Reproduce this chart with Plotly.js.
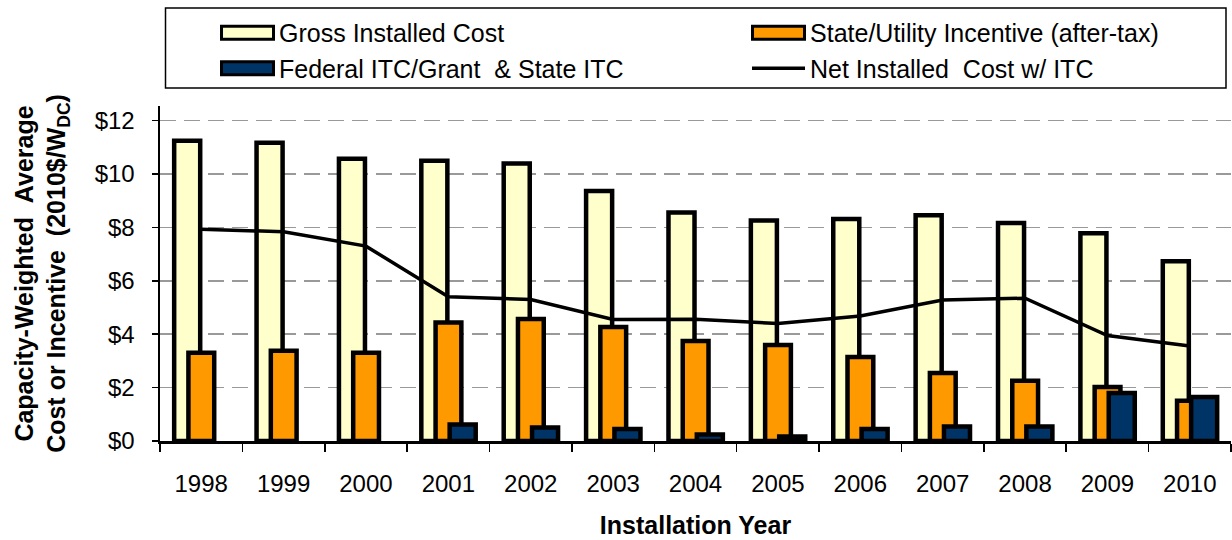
<!DOCTYPE html>
<html><head><meta charset="utf-8">
<script src="https://cdn.plot.ly/plotly-3.0.1.min.js"></script>
<style>html,body{margin:0;padding:0;background:#fff}</style>
</head><body>
<div id="chart" style="width:1232px;height:540px"></div>
<script>
const years = ['1998','1999','2000','2001','2002','2003','2004','2005','2006','2007','2008','2009','2010'];
const grossCost = [11.25, 11.17, 10.57, 10.50, 10.40, 9.37, 8.56, 8.26, 8.32, 8.46, 8.17, 7.78, 6.73];
const stateIncentive = [3.31, 3.38, 3.31, 4.44, 4.57, 4.27, 3.75, 3.60, 3.15, 2.55, 2.26, 2.02, 1.51];
const federalITC = [null, null, null, 0.62, 0.51, 0.45, 0.24, 0.17, 0.45, 0.54, 0.54, 1.80, 1.65];
const netCost = [7.93, 7.84, 7.30, 5.40, 5.30, 4.55, 4.56, 4.40, 4.68, 5.28, 5.35, 3.95, 3.56];

const FONT = 'Liberation Sans, Arial, sans-serif';
const BAR_LINE = 4.5;

const traces = [
  {type: 'bar', name: 'Gross Installed Cost', x: years, y: grossCost,
   offset: -0.328, width: 0.316,
   marker: {color: '#FFFFCC', line: {color: '#000000', width: BAR_LINE}}, hoverinfo: 'skip'},
  {type: 'bar', name: 'State/Utility Incentive (after-tax)', x: years, y: stateIncentive,
   offset: -0.155, width: 0.313,
   marker: {color: '#FF9900', line: {color: '#000000', width: BAR_LINE}}, hoverinfo: 'skip'},
  {type: 'bar', name: 'Federal ITC/Grant \u00a0& State ITC', x: years, y: federalITC,
   offset: 0.016, width: 0.316,
   marker: {color: '#003366', line: {color: '#000000', width: BAR_LINE}}, hoverinfo: 'skip'},
  {type: 'scatter', mode: 'lines', name: 'Net Installed \u00a0Cost w/ ITC', x: years, y: netCost,
   line: {color: '#000000', width: 3.5}, hoverinfo: 'skip'}
];

const layout = {
  width: 1232, height: 540,
  margin: {l: 160, r: 1, t: 106, b: 99, autoexpand: false},
  paper_bgcolor: '#ffffff', plot_bgcolor: '#ffffff',
  font: {family: FONT, color: '#000000', size: 24},
  barmode: 'overlay',
  showlegend: true,
  legend: {
    orientation: 'h', xref: 'paper', yref: 'container',
    x: 0.0523, xanchor: 'left', y: 0.9815, yanchor: 'top',
    itemwidth: 53, entrywidth: 463, entrywidthmode: 'pixels',
    borderwidth: 0, bgcolor: 'rgba(0,0,0,0)',
    font: {family: FONT, size: 25, color: '#000000'},
    traceorder: 'normal'
  },
  shapes: [
    {type: 'rect', xref: 'paper', yref: 'paper', layer: 'below',
     x0: 0.00514, x1: 0.99533, y0: 1.0537, y1: 1.2925,
     line: {color: '#000000', width: 1.5}, fillcolor: 'rgba(0,0,0,0)'}
  ],
  xaxis: {
    type: 'category', range: [-0.5, 12.5],
    showline: true, linecolor: '#000000', linewidth: 2.5,
    ticks: 'outside', tickson: 'boundaries', ticklen: 8, tickwidth: 1.5, tickcolor: '#000000',
    showgrid: false, zeroline: false,
    tickfont: {family: FONT, size: 24, color: '#000000'},
    ticklabelstandoff: 20,
    title: {text: 'Installation Year', standoff: 20,
            font: {family: FONT, size: 25, color: '#000000', weight: 'bold'}}
  },
  yaxis: {
    range: [0, 12.55], tick0: 0, dtick: 2, tickprefix: '$',
    showline: true, linecolor: '#000000', linewidth: 2.5,
    ticks: 'outside', ticklen: 6, tickwidth: 1.5, tickcolor: '#000000',
    showgrid: true, gridcolor: '#999999', gridwidth: 1.5, griddash: '16px,8px',
    zeroline: false,
    tickfont: {family: FONT, size: 24, color: '#000000'},
    ticklabelstandoff: 12,
    title: {text: 'Capacity-Weighted \u00a0Average<br>Cost or Incentive \u00a0(2010$/W<sub>DC</sub>)', standoff: 22,
            font: {family: FONT, size: 25, color: '#000000', weight: 'bold'}}
  }
};

function widenLegendSwatches() {
  document.querySelectorAll('#chart .legend .legendpoints path').forEach(function (p) {
    p.setAttribute('d', 'M26,6.5H-26V-6.5H26Z');
    p.style.strokeWidth = '3px';
  });
}

Plotly.newPlot('chart', traces, layout, {displayModeBar: false, staticPlot: true}).then(function () {
  widenLegendSwatches();
  setTimeout(widenLegendSwatches, 50);
  setTimeout(widenLegendSwatches, 300);
});
</script>
</body></html>
